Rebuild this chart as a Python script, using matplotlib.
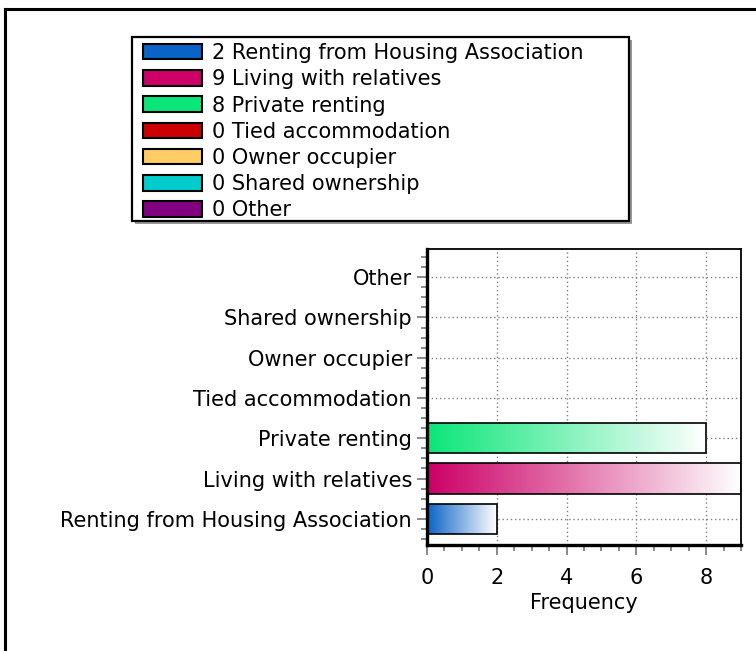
import matplotlib
matplotlib.use("Agg")
import matplotlib.pyplot as plt
import numpy as np
from matplotlib.colors import LinearSegmentedColormap
from matplotlib.patches import Patch, Rectangle
from matplotlib.lines import Line2D
from matplotlib.ticker import MultipleLocator

categories = ["Renting from Housing Association", "Living with relatives", "Private renting",
              "Tied accommodation", "Owner occupier", "Shared ownership", "Other"]
values = [2, 9, 8, 0, 0, 0, 0]
colors = ["#0A64C8", "#CC0066", "#0AE678", "#CC0000", "#FFCC66", "#00CCCC", "#800080"]
x_ticks = [0, 2, 4, 6, 8]

plt.rcParams['font.family'] = ['DejaVu Sans']
FS = 15
FSPX = FS * 100 / 72

fig = plt.figure(figsize=(7.56, 6.51), dpi=100)
W, H = 756, 651
ax = fig.add_axes([427 / W, 1 - 545 / H, 314 / W, 296 / H])

ypos = np.arange(len(categories))
bars = ax.barh(ypos, values, height=0.75, facecolor="none", edgecolor="black", linewidth=1.2, zorder=3)
grad = np.linspace(0, 1, 256).reshape(1, -1)
for b, v, c in zip(bars, values, colors):
    if v <= 0:
        continue
    cmap = LinearSegmentedColormap.from_list("g", [c, "#FFFFFF"])
    x0, y0 = b.get_x(), b.get_y()
    im = ax.imshow(grad, cmap=cmap, aspect="auto", extent=(x0, x0 + b.get_width(), y0, y0 + b.get_height()),
                   zorder=2, interpolation="bilinear")
    im.set_clip_path(b)

ax.set_xlim(0, 9)
ax.set_ylim(-0.65, 6.7)
ax.set_yticks(ypos)
ax.set_yticklabels(categories, fontsize=FS)
ax.set_xticks(x_ticks)
ax.set_xticklabels([str(t) for t in x_ticks], fontsize=FS)
ax.xaxis.set_minor_locator(MultipleLocator(0.5))
ax.yaxis.set_minor_locator(MultipleLocator(0.25))
ax.tick_params(axis="y", which="major", length=7.2, width=1.3, color="#808080", pad=3.6)
ax.tick_params(axis="y", which="minor", length=4.3, width=1.3, color="#808080")
ax.tick_params(axis="x", which="major", length=7.2, width=1.3, color="#808080", pad=9.5)
ax.tick_params(axis="x", which="minor", length=4, width=1.3, color="#808080")
ax.grid(True, which="major", linestyle=(0, (1, 2)), color="#808080", linewidth=1, zorder=1)
ax.set_axisbelow(True)
ax.set_xlabel("Frequency", fontsize=FS, labelpad=3.5)
for s in ["left", "bottom"]:
    ax.spines[s].set_linewidth(2.4)
for s in ["top", "right"]:
    ax.spines[s].set_linewidth(1.3)

# legend box with shadow
lx0, lx1, ly0, ly1 = 132, 629, 37, 221
fig.add_artist(Rectangle(((lx0 + 3) / W, 1 - (ly1 + 3) / H), (lx1 - lx0) / W, (ly1 - ly0) / H,
                         transform=fig.transFigure, facecolor="#999999", edgecolor="none", zorder=4))
fig.add_artist(Rectangle((lx0 / W, 1 - ly1 / H), (lx1 - lx0) / W, (ly1 - ly0) / H,
                         transform=fig.transFigure, facecolor="white", edgecolor="black",
                         linewidth=1.6, zorder=5))

handles = [Patch(facecolor=c, edgecolor="black", linewidth=1.5) for c in colors]
labels = [f"{v} {n}" for v, n in zip(values, categories)]
leg = fig.legend(handles, labels, loc="upper left",
                 bbox_to_anchor=(143 / W, 1 - 43 / H),
                 borderaxespad=0, fontsize=FS, handlelength=59 / FSPX, handleheight=16 / FSPX,
                 handletextpad=10 / FSPX, labelspacing=0.3, borderpad=0, frameon=False)
leg.set_zorder(6)

fig.add_artist(Line2D([5 / W, 1], [1 - 9 / H, 1 - 9 / H], color="black", linewidth=2.2))
fig.add_artist(Line2D([5 / W, 5 / W], [0, 1 - 9 / H], color="black", linewidth=2.2))

fig.savefig("out.png", dpi=100)
